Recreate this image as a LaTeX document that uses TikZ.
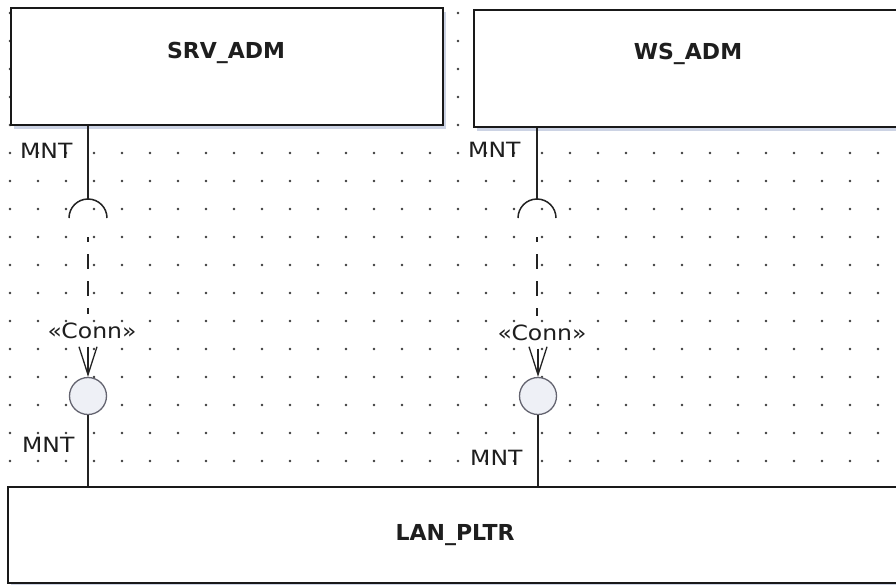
\documentclass[tikz,border=0pt]{standalone}
\usepackage{fontspec}
\newfontfamily\lblfont[FakeStretch=1.12]{DejaVu Sans}
\newfontfamily\boxfont{DejaVu Sans}
\usetikzlibrary{arrows.meta,calc,shadows}
\definecolor{dotgray}{RGB}{60,60,60}
\definecolor{edgec}{RGB}{25,25,25}
\definecolor{shadowc}{RGB}{204,211,228}
\definecolor{wirec}{RGB}{35,35,35}
\definecolor{ballline}{RGB}{100,100,112}
\definecolor{ballfill}{RGB}{238,240,246}
\definecolor{textc}{RGB}{30,30,30}
\begin{document}
\begin{tikzpicture}[x=1pt,y=1pt,
  compbox/.style={rectangle, draw=edgec, line width=2pt, fill=white, inner sep=0pt,
    drop shadow={shadow xshift=3pt, shadow yshift=-4pt, fill=shadowc, opacity=1}},
  boxlbl/.style={font=\boxfont\bfseries\fontsize{22}{26}\selectfont, text=textc, inner sep=0pt, anchor=base},
  portlbl/.style={font=\lblfont\fontsize{21}{25}\selectfont, text=textc, inner sep=0pt},
  wire/.style={draw=wirec, line width=1.5pt},
  dep/.style={wire, dash pattern=on 15pt off 12pt, dash phase=10pt},
  barb/.style={wire, -{Straight Barb[length=28pt, width=18pt, line width=1.3pt]}},
  ball/.style={circle, draw=ballline, line width=1.3pt, fill=ballfill, minimum size=37pt, inner sep=0pt},
]
\useasboundingbox (0,0) rectangle (896,-584);
\clip (0,0) rectangle (896,-584);
\fill[white] (0,0) rectangle (896,-584);
% dot grid
\foreach \i in {0,...,31}
  \foreach \j in {0,...,16}
    \fill[dotgray] ({10+28*\i},{-13-28*\j}) circle (1.3pt);

% components
\node[compbox, minimum width=432pt, minimum height=117pt, anchor=north west] (srv) at (10,-7) {};
\node[boxlbl] (srvl) at (226,-58) {SRV\_ADM};
\node[compbox, minimum width=432pt, minimum height=117pt, anchor=north west] (ws) at (473,-9) {};
\node[boxlbl] (wsl) at (688,-59) {WS\_ADM};
\node[compbox, minimum width=905pt, minimum height=96pt, anchor=north west] (lan) at (7,-486) {};
\node[boxlbl] (lanl) at (455,-540) {LAN\_PLTR};

% left assembly
\coordinate (sk1) at (88,-218);
\node[ball] (b1) at (88,-396) {};
\node[portlbl, anchor=base] (c1) at (92,-338) {«Conn»};
\node[portlbl, anchor=base west] (m1) at (20,-158) {MNT};
\node[portlbl, anchor=base west] (m2) at (22,-452) {MNT};
\draw[wire] (srv.south -| sk1) -- ($(sk1)+(0,19)$);
\draw[wire] ($(sk1)+(-19,0)$) arc[start angle=180, end angle=0, radius=19pt];
\draw[dep] ($(sk1)+(0,-19)$) -- ($(c1.north -| sk1)+(0,8)$);
\draw[barb] ($(c1.south -| b1)+(0,-8)$) -- (b1.north);
\draw[wire] (b1.south) -- (b1 |- lan.north);

% right assembly
\coordinate (sk2) at (537,-218);
\node[ball] (b2) at (538,-396) {};
\node[portlbl, anchor=base] (c2) at (542,-340) {«Conn»};
\node[portlbl, anchor=base west] (m3) at (468,-157) {MNT};
\node[portlbl, anchor=base west] (m4) at (470,-465) {MNT};
\draw[wire] (ws.south -| sk2) -- ($(sk2)+(0,19)$);
\draw[wire] ($(sk2)+(-19,0)$) arc[start angle=180, end angle=0, radius=19pt];
\draw[dep] ($(sk2)+(0,-19)$) -- ($(c2.north -| sk2)+(0,8)$);
\draw[barb] ($(c2.south -| b2)+(0,-8)$) -- (b2.north);
\draw[wire] (b2.south) -- (b2 |- lan.north);
\end{tikzpicture}
\end{document}
